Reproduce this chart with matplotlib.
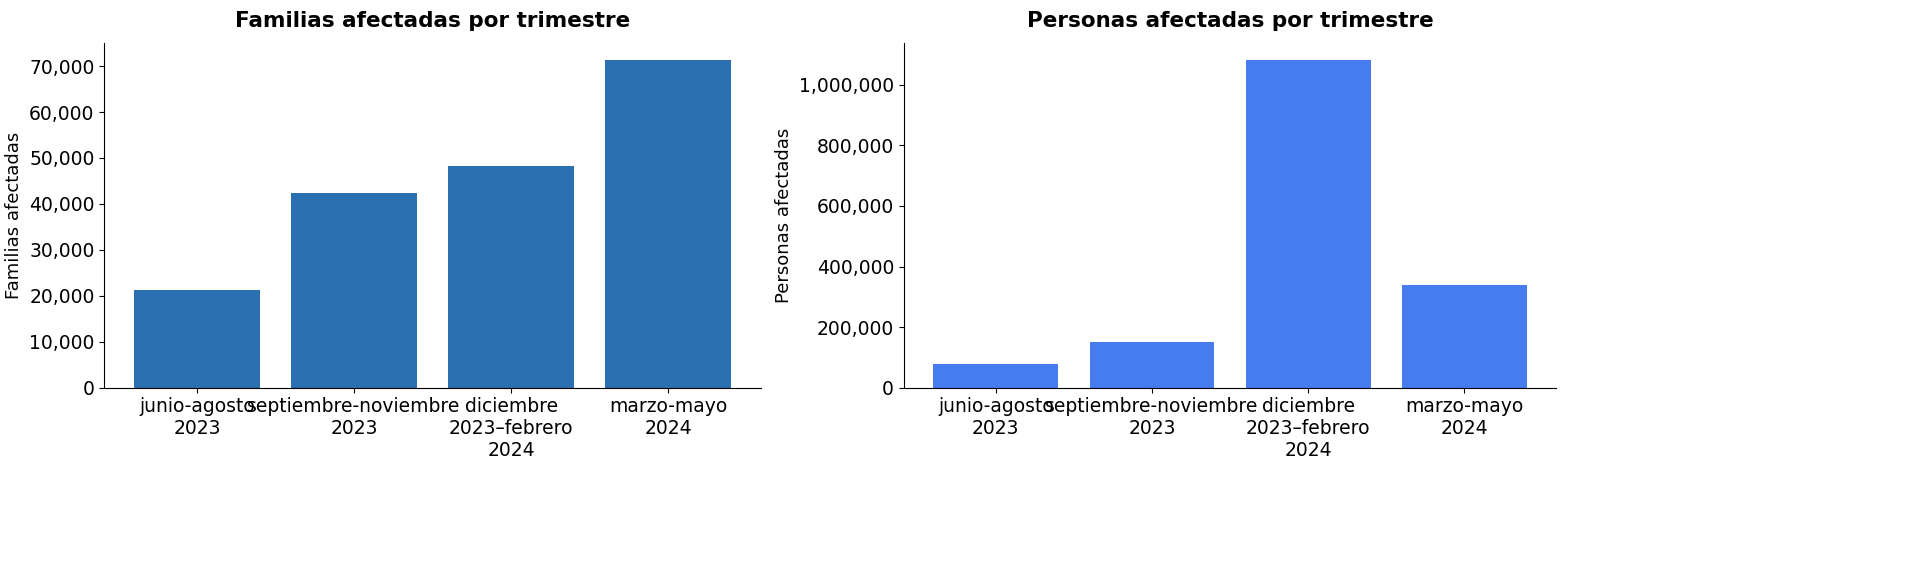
import matplotlib.pyplot as plt
from matplotlib.ticker import FuncFormatter

trimestres = ['junio-agosto\n2023', 'septiembre-noviembre\n2023',
              'diciembre\n2023–febrero\n2024', 'marzo-mayo\n2024']
familias = [21300, 42400, 48300, 71400]
personas = [78000, 152000, 1083000, 338000]

fmt = FuncFormatter(lambda v, p: f'{int(v):,}')

fig = plt.figure(figsize=(19.31, 5.84), dpi=100)
ax1 = fig.add_axes([0.054, 0.336, 0.340, 0.590])
ax2 = fig.add_axes([0.468, 0.336, 0.338, 0.590])

ax1.bar(trimestres, familias, color='#2a6fb0', width=0.8)
ax1.set_title('Familias afectadas por trimestre', fontsize=15.5, fontweight='bold', pad=12)
ax1.set_ylabel('Familias afectadas', fontsize=13)

ax2.bar(trimestres, personas, color='#477cee', width=0.8)
ax2.set_title('Personas afectadas por trimestre', fontsize=15.5, fontweight='bold', pad=12)
ax2.set_ylabel('Personas afectadas', fontsize=13)

for ax in (ax1, ax2):
    ax.yaxis.set_major_formatter(fmt)
    ax.tick_params(labelsize=13.5)
    ax.spines['top'].set_visible(False)
    ax.spines['right'].set_visible(False)

fig.savefig('out.png', dpi=100)
